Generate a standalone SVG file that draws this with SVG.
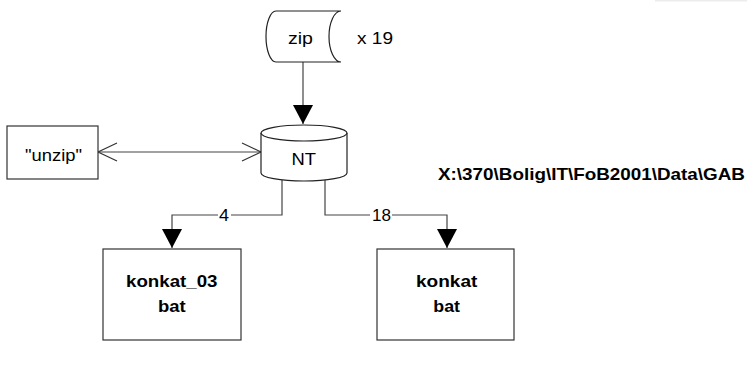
<svg xmlns="http://www.w3.org/2000/svg" width="748" height="367" viewBox="0 0 748 367">
<defs>
<style>
.shape{fill:#fff;stroke:#222;stroke-width:1.2}
.box{fill:#fff;stroke:#333;stroke-width:1.2}
.line{fill:none;stroke:#444;stroke-width:1.2}
.t{font-family:"Liberation Sans",Arial,sans-serif;font-size:16.5px;fill:#000}
.b{font-weight:bold}
</style>
<marker id="tri" markerUnits="userSpaceOnUse" markerWidth="20" markerHeight="20" viewBox="0 0 18 18" refX="17" refY="9" orient="auto">
<path d="M0,0 L17,9 L0,18 Z" fill="#000"/>
</marker>
<marker id="open" markerUnits="userSpaceOnUse" markerWidth="22" markerHeight="22" viewBox="0 0 22 22" refX="20" refY="11" orient="auto-start-reverse">
<path d="M1,2 L20,11 L1,20" fill="none" stroke="#333" stroke-width="1.2"/>
</marker>
</defs>
<rect x="655" y="0" width="92" height="1.5" fill="#ececec"/>
<g id="connectors">
<line class="line" x1="303" y1="62" x2="303" y2="124" marker-end="url(#tri)"/>
<line class="line" x1="98" y1="152" x2="261" y2="152" marker-start="url(#open)" marker-end="url(#open)"/>
<polyline class="line" points="282,180 282,215 172,215 172,248" marker-end="url(#tri)"/>
<polyline class="line" points="325,180 325,215 447,215 447,248" marker-end="url(#tri)"/>
<rect x="218" y="207" width="13" height="16" fill="#fff"/>
<text class="t" x="219" y="220.5" textLength="10" lengthAdjust="spacingAndGlyphs">4</text>
<rect x="370" y="207" width="22" height="16" fill="#fff"/>
<text class="t" x="372" y="220.5" textLength="19" lengthAdjust="spacingAndGlyphs">18</text>
</g>
<g id="zip">
<path class="shape" d="M276,11 L341,11 A12,25.5 0 0 0 341,62 L276,62 A10,25.5 0 0 1 276,11 Z"/>
<text class="t" x="288" y="43.5" textLength="25" lengthAdjust="spacingAndGlyphs">zip</text>
</g>
<text class="t" x="357" y="44" textLength="36" lengthAdjust="spacingAndGlyphs">x 19</text>
<g id="NT">
<path class="shape" d="M261,133 L261,173 A43,8 0 0 0 347,173 L347,133"/>
<ellipse class="shape" cx="304" cy="133" rx="43" ry="8"/>
<text class="t" x="291.5" y="165" textLength="24.5" lengthAdjust="spacingAndGlyphs">NT</text>
</g>
<g id="unzip">
<rect class="box" x="7" y="126" width="91" height="53"/>
<text class="t" x="25" y="161" textLength="57" lengthAdjust="spacingAndGlyphs">"unzip"</text>
</g>
<g id="konkat03">
<rect class="box" x="103" y="249" width="138" height="91"/>
<text class="t b" x="126" y="287" textLength="91.5" lengthAdjust="spacingAndGlyphs">konkat_03</text>
<text class="t b" x="158" y="312" textLength="27.7" lengthAdjust="spacingAndGlyphs">bat</text>
</g>
<g id="konkat">
<rect class="box" x="377" y="249" width="137" height="91"/>
<text class="t b" x="416" y="287" textLength="61.3" lengthAdjust="spacingAndGlyphs">konkat</text>
<text class="t b" x="433.3" y="312" textLength="26.7" lengthAdjust="spacingAndGlyphs">bat</text>
</g>
<text class="t b" x="438" y="180" textLength="307" lengthAdjust="spacingAndGlyphs">X:\370\Bolig\IT\FoB2001\Data\GAB</text>
</svg>
